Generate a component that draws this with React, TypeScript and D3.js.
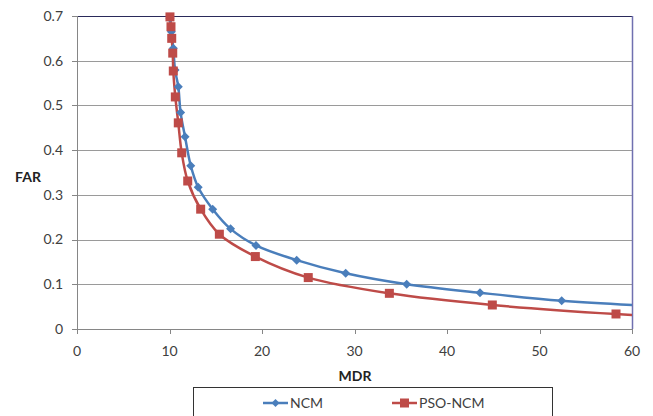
import React, { useEffect, useRef } from "react";
import * as d3 from "d3";

// MDR (x) and FAR (y) for the two detectors
const ncmMdr = [10.05, 10.2, 10.41, 10.6, 10.95, 11.2, 11.68, 12.3, 13.1, 14.67, 16.6, 19.35, 23.75, 29.05, 35.64, 43.57, 52.4, 63.5];
const ncmFar = [0.695, 0.665, 0.628, 0.579, 0.542, 0.484, 0.43, 0.365, 0.317, 0.268, 0.224, 0.187, 0.154, 0.1245, 0.1, 0.081, 0.063, 0.05];

const psoMdr = [10.05, 10.16, 10.24, 10.35, 10.41, 10.63, 10.95, 11.32, 11.97, 13.37, 15.39, 19.28, 25.0, 33.77, 44.9, 58.27, 70];
const psoFar = [0.698, 0.676, 0.65, 0.617, 0.577, 0.519, 0.461, 0.394, 0.331, 0.268, 0.212, 0.162, 0.115, 0.0798, 0.0537, 0.0336, 0.022];

const xTicks = [0, 10, 20, 30, 40, 50, 60];
const yTicks = [0, 0.1, 0.2, 0.3, 0.4, 0.5, 0.6, 0.7];
const yTickLabels = ["0", "0.1", "0.2", "0.3", "0.4", "0.5", "0.6", "0.7"];

const seriesNames = ["NCM", "PSO-NCM"];
const seriesColors = ["#4a7ebb", "#be4b48"];

const W = 653;
const H = 416;
const FONT = "Lato, 'Open Sans', sans-serif";

export default function App() {
  const ref = useRef<SVGSVGElement | null>(null);

  useEffect(() => {
    const svg = d3.select(ref.current);
    svg.selectAll("*").remove();

    const left = 77, right = 632, top = 16, bottom = 329;
    const x = d3.scaleLinear().domain([0, 60]).range([left, right]);
    const y = d3.scaleLinear().domain([0, 0.7]).range([bottom, top]);

    svg.append("rect").attr("width", W).attr("height", H).attr("fill", "#ffffff");

    svg.append("defs").append("clipPath").attr("id", "plot-clip")
      .append("rect").attr("x", left).attr("y", top - 4).attr("width", right - left).attr("height", bottom - top + 4);

    // horizontal gridlines
    svg.append("g").selectAll("line").data(yTicks.slice(1, -1)).join("line")
      .attr("x1", left).attr("x2", right)
      .attr("y1", (d) => Math.round(y(d)) + 0.5).attr("y2", (d) => Math.round(y(d)) + 0.5)
      .attr("stroke", "#9a9a9a").attr("stroke-width", 1);

    // plot frame: top and right borders
    svg.append("line").attr("x1", left).attr("x2", right + 0.5).attr("y1", top + 0.5).attr("y2", top + 0.5)
      .attr("stroke", "#2a2a5a").attr("stroke-width", 1.2);
    svg.append("line").attr("x1", right + 0.5).attr("x2", right + 0.5).attr("y1", top).attr("y2", bottom)
      .attr("stroke", "#7070b0").attr("stroke-width", 1.5);

    // axes
    const axisColor = "#868686";
    svg.append("line").attr("x1", left + 0.5).attr("x2", left + 0.5).attr("y1", top).attr("y2", bottom + 0.5)
      .attr("stroke", axisColor);
    svg.append("line").attr("x1", left).attr("x2", right).attr("y1", bottom + 0.5).attr("y2", bottom + 0.5)
      .attr("stroke", axisColor);
    svg.append("g").selectAll("line").data(yTicks).join("line")
      .attr("x1", left - 5).attr("x2", left)
      .attr("y1", (d) => Math.round(y(d)) + 0.5).attr("y2", (d) => Math.round(y(d)) + 0.5)
      .attr("stroke", axisColor);
    svg.append("g").selectAll("line").data(xTicks).join("line")
      .attr("x1", (d) => Math.round(x(d)) + 0.5).attr("x2", (d) => Math.round(x(d)) + 0.5)
      .attr("y1", bottom).attr("y2", bottom + 5)
      .attr("stroke", axisColor);

    // tick labels
    svg.append("g").selectAll("text").data(yTicks).join("text")
      .attr("x", 63).attr("y", (d) => y(d)).attr("dy", "0.35em")
      .attr("text-anchor", "end").attr("font-family", FONT).attr("font-size", 14).attr("fill", "#404040")
      .text((_, i) => yTickLabels[i]);
    svg.append("g").selectAll("text").data(xTicks).join("text")
      .attr("x", (d) => x(d)).attr("y", 356)
      .attr("text-anchor", "middle").attr("font-family", FONT).attr("font-size", 14).attr("fill", "#404040")
      .text((d) => String(d));

    // axis titles
    svg.append("text").attr("x", 28).attr("y", 182).attr("text-anchor", "middle")
      .attr("font-family", FONT).attr("font-size", 14).attr("font-weight", "bold").attr("fill", "#222")
      .text("FAR");
    svg.append("text").attr("x", 355).attr("y", 381).attr("text-anchor", "middle")
      .attr("font-family", FONT).attr("font-size", 14).attr("font-weight", "bold").attr("fill", "#222")
      .text("MDR");

    const series = [
      { xs: ncmMdr, ys: ncmFar, marker: "diamond" },
      { xs: psoMdr, ys: psoFar, marker: "square" },
    ];

    const line = d3.line<[number, number]>()
      .x((d) => x(d[0])).y((d) => y(d[1]))
      .curve(d3.curveCatmullRom.alpha(0.5));

    const plot = svg.append("g").attr("clip-path", "url(#plot-clip)");

    series.forEach((s, i) => {
      const pts: [number, number][] = s.xs.map((v, k) => [v, s.ys[k]]);
      plot.append("path").attr("d", line(pts) as string)
        .attr("fill", "none").attr("stroke", seriesColors[i]).attr("stroke-width", 2.5);
    });

    series.forEach((s, i) => {
      const pts: [number, number][] = s.xs.map((v, k) => [v, s.ys[k]]).filter((p) => p[0] <= 60) as [number, number][];
      const g = svg.append("g");
      if (s.marker === "diamond") {
        g.selectAll("path").data(pts).join("path")
          .attr("d", (d) => {
            const cx = x(d[0]), cy = y(d[1]);
            return `M${cx},${cy - 4.5}L${cx + 4.5},${cy}L${cx},${cy + 4.5}L${cx - 4.5},${cy}Z`;
          })
          .attr("fill", seriesColors[i]);
      } else {
        g.selectAll("rect").data(pts).join("rect")
          .attr("x", (d) => x(d[0]) - 4.5).attr("y", (d) => y(d[1]) - 4.5)
          .attr("width", 9).attr("height", 9)
          .attr("fill", seriesColors[i]);
      }
    });

    // legend
    const lg = svg.append("g");
    lg.append("rect").attr("x", 193.5).attr("y", 387.5).attr("width", 359).attr("height", 40)
      .attr("fill", "#fff").attr("stroke", "#333").attr("stroke-width", 1);
    const legendX = [263, 392];
    seriesNames.forEach((name, i) => {
      const lx = legendX[i];
      const ly = 403;
      lg.append("line").attr("x1", lx).attr("x2", lx + 25).attr("y1", ly).attr("y2", ly)
        .attr("stroke", seriesColors[i]).attr("stroke-width", 2.5);
      const cx = lx + 12.5;
      if (i === 0) {
        lg.append("path").attr("d", `M${cx},${ly - 4}L${cx + 4},${ly}L${cx},${ly + 4}L${cx - 4},${ly}Z`)
          .attr("fill", seriesColors[i]);
      } else {
        lg.append("rect").attr("x", cx - 4.5).attr("y", ly - 4.5).attr("width", 9).attr("height", 9)
          .attr("fill", seriesColors[i]);
      }
      lg.append("text").attr("x", lx + 27).attr("y", ly).attr("dy", "0.35em")
        .attr("font-family", FONT).attr("font-size", 14).attr("fill", "#404040").text(name);
    });
  }, []);

  return (
    <div style={{ position: "absolute", left: 0, top: 0 }}>
      <svg ref={ref} width={W} height={H} style={{ display: "block" }} />
    </div>
  );
}
